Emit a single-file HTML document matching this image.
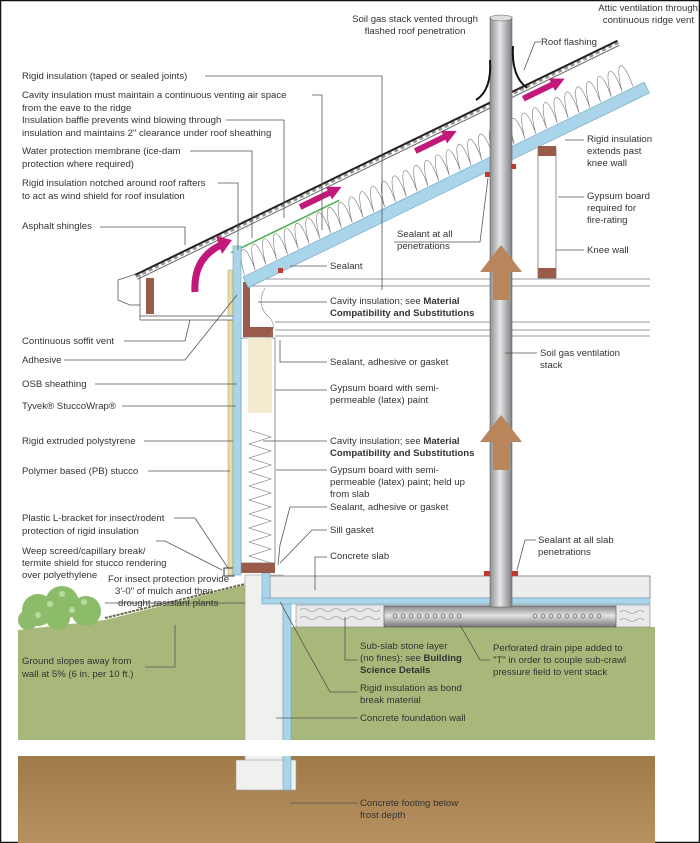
<!DOCTYPE html>
<html><head><meta charset="utf-8"><style>
html,body{margin:0;padding:0;background:#fff}
svg{display:block}
text{font-family:"Liberation Sans",sans-serif;font-size:9.6px;fill:#333}
.b{font-weight:bold}
.l{stroke:#555;stroke-width:0.8;fill:none}
</style></head><body>
<svg width="700" height="843" viewBox="0 0 700 843" xmlns="http://www.w3.org/2000/svg">
<defs>
<linearGradient id="pipe" x1="0" x2="1"><stop offset="0" stop-color="#8d8f92"/><stop offset="0.45" stop-color="#e6e7e8"/><stop offset="1" stop-color="#7d7f82"/></linearGradient>
<linearGradient id="soil" x1="0" y1="0" x2="0" y2="1"><stop offset="0" stop-color="#a07a47"/><stop offset="1" stop-color="#b79261"/></linearGradient>
<linearGradient id="hpipe" x1="0" y1="0" x2="0" y2="1"><stop offset="0" stop-color="#888"/><stop offset="0.45" stop-color="#e3e3e3"/><stop offset="1" stop-color="#777"/></linearGradient>
</defs>
<rect x="0.5" y="0.5" width="699" height="842" fill="#fff" stroke="#111" stroke-width="1.5"/>

<!-- soil -->
<rect x="18" y="756" width="637" height="87" fill="url(#soil)"/>
<!-- ground green -->
<polygon points="18,630 105,620 245,585 245,740 18,740" fill="#a8b87a"/>
<rect x="290" y="627" width="365" height="113" fill="#a8b87a"/>
<polyline points="105,618 245,584" stroke="#6a6a4a" stroke-width="2" fill="none" stroke-dasharray="3,1"/>
<!-- shrub -->
<g fill="#8cbc6a">
<circle cx="38" cy="610" r="16"/><circle cx="62" cy="603" r="17"/><circle cx="86" cy="611" r="15"/><circle cx="28" cy="620" r="10"/><circle cx="58" cy="618" r="12"/>
</g>
<g fill="#b8dca0"><circle cx="50" cy="604" r="3"/><circle cx="72" cy="610" r="3"/><circle cx="38" cy="615" r="3"/><circle cx="84" cy="602" r="3"/><circle cx="62" cy="594" r="3"/></g>

<!-- foundation wall & footing -->
<rect x="245" y="575" width="38" height="215" fill="#f0f0ee" stroke="#999" stroke-width="0.6"/>
<rect x="245" y="740" width="38" height="16" fill="#fff"/>
<rect x="236" y="760" width="60" height="30" fill="#f0f0ee" stroke="#999" stroke-width="0.6"/>
<rect x="283" y="604" width="8" height="186" fill="#a9d4ea" stroke="#6fa3c0" stroke-width="0.6"/>
<rect x="283" y="740" width="8" height="16" fill="#fff"/>
<rect x="18" y="740" width="637" height="16" fill="#fff"/>
<!-- slab -->
<rect x="270" y="576" width="380" height="22" fill="#ededeb" stroke="#777" stroke-width="0.8"/>
<rect x="262" y="573" width="8" height="30" fill="#a9d4ea" stroke="#6fa3c0" stroke-width="0.6"/>
<rect x="262" y="598" width="388" height="6" fill="#a9d4ea" stroke="#6fa3c0" stroke-width="0.6"/>
<!-- gravel -->
<rect x="296" y="605" width="354" height="22" fill="#e9e9e9" stroke="#888" stroke-width="0.6"/>
<g fill="none" stroke="#888" stroke-width="0.6">
<path d="M300,610 q4,-3 8,0 q4,3 8,0 q4,-3 8,0 q4,3 8,0 q4,-3 8,0 q4,3 8,0 q4,-3 8,0 q4,3 8,0 q4,-3 8,0 q4,3 8,0 M300,618 q4,-3 8,0 q4,3 8,0 q4,-3 8,0 q4,3 8,0 q4,-3 8,0 q4,3 8,0 q4,-3 8,0 q4,3 8,0 q4,-3 8,0 q4,3 8,0 M620,612 q4,-3 8,0 q4,3 8,0 q4,-3 8,0 M620,620 q4,-3 8,0 q4,3 8,0 q4,-3 8,0"/>
</g>
<!-- drain pipe -->
<rect x="384" y="606" width="232" height="21" fill="url(#hpipe)" stroke="#555" stroke-width="0.6"/>
<g fill="none" stroke="#444" stroke-width="0.6">
<circle cx="395" cy="616" r="2"/><circle cx="403" cy="616" r="2"/><circle cx="411" cy="616" r="2"/><circle cx="419" cy="616" r="2"/><circle cx="427" cy="616" r="2"/><circle cx="435" cy="616" r="2"/><circle cx="443" cy="616" r="2"/><circle cx="451" cy="616" r="2"/><circle cx="459" cy="616" r="2"/>
<circle cx="535" cy="616" r="2"/><circle cx="543" cy="616" r="2"/><circle cx="551" cy="616" r="2"/><circle cx="559" cy="616" r="2"/><circle cx="567" cy="616" r="2"/><circle cx="575" cy="616" r="2"/><circle cx="583" cy="616" r="2"/><circle cx="591" cy="616" r="2"/><circle cx="599" cy="616" r="2"/>
</g>

<!-- wall -->
<rect x="228" y="270" width="5" height="305" fill="#e8dca0" stroke="#999" stroke-width="0.5"/>
<rect x="241" y="338" width="34" height="225" fill="#fff" stroke="#666" stroke-width="0.7"/>
<rect x="248" y="338" width="24" height="75" fill="#f3ead0"/>
<path d="M249,430 l22,7 l-22,7 l22,7 l-22,7 l22,7 l-22,7 l22,7 l-22,7 l22,7 l-22,7 l22,7 l-22,7 l22,7 l-22,7 l22,7 l-22,7 l22,7 l-22,7 l22,7" fill="none" stroke="#777" stroke-width="0.6"/>
<rect x="243" y="282" width="7" height="50" fill="#9b5b4a"/>
<rect x="243" y="327" width="30" height="10" fill="#9b5b4a"/>
<rect x="241" y="563" width="34" height="10" fill="#9b5b4a"/>
<rect x="224" y="568" width="10" height="8" fill="none" stroke="#333" stroke-width="1"/>

<!-- ceiling joists -->
<g stroke="#777" stroke-width="0.8" fill="none">
<line x1="250" y1="279" x2="650" y2="279"/><line x1="250" y1="286" x2="650" y2="286"/>
<line x1="275" y1="322" x2="650" y2="322"/><line x1="275" y1="330" x2="650" y2="330"/>
<line x1="275" y1="336" x2="650" y2="336"/>
</g>
<path d="M265,288 q-10,18 5,30 q8,10 -3,20" fill="none" stroke="#888" stroke-width="0.6"/>

<!-- eave -->
<path d="M142,272 L118,280 L118,300 L130,305 L140,305" fill="#fff" stroke="#555" stroke-width="0.8"/>
<rect x="146" y="278" width="8" height="36" fill="#9b5b4a"/>
<line x1="140" y1="275" x2="140" y2="318" stroke="#555" stroke-width="0.8"/>
<rect x="140" y="316" width="93" height="4" fill="#fff" stroke="#555" stroke-width="0.8"/>

<!-- roof assembly in rotated frame -->
<g transform="translate(243,277) rotate(-25.9)">
  <rect x="0" y="-46" width="448" height="46" fill="#fff"/>
  <path d="M2,-1 c6,-32 16,-32 12,0 c6,-32 16,-32 12,0 c6,-32 16,-32 12,0 c6,-32 16,-32 12,0 c6,-32 16,-32 12,0 c6,-32 16,-32 12,0 c6,-32 16,-32 12,0 c6,-32 16,-32 12,0 c6,-32 16,-32 12,0 c6,-32 16,-32 12,0 c6,-32 16,-32 12,0 c6,-32 16,-32 12,0 c6,-32 16,-32 12,0 c6,-32 16,-32 12,0 c6,-32 16,-32 12,0 c6,-32 16,-32 12,0 c6,-32 16,-32 12,0 c6,-32 16,-32 12,0 c6,-32 16,-32 12,0 c6,-32 16,-32 12,0 c6,-32 16,-32 12,0 c6,-32 16,-32 12,0 c6,-32 16,-32 12,0 c6,-32 16,-32 12,0 c6,-32 16,-32 12,0 c6,-32 16,-32 12,0 c6,-32 16,-32 12,0 c6,-32 16,-32 12,0 c6,-32 16,-32 12,0 c6,-32 16,-32 12,0 c6,-32 16,-32 12,0 c6,-32 16,-32 12,0 c6,-32 16,-32 12,0 c6,-32 16,-32 12,0 c6,-32 16,-32 12,0 c6,-32 16,-32 12,0" fill="none" stroke="#777" stroke-width="0.6"/>
  <line x1="0" y1="-27" x2="120" y2="-27" stroke="#4caf50" stroke-width="1.5"/>
  <rect x="0" y="0" width="446" height="12" fill="#a9d4ea" stroke="#6fa3c0" stroke-width="0.6"/>
  <line x1="-96" y1="-44" x2="440" y2="-44" stroke="#666" stroke-width="1"/>
  <line x1="-96" y1="-47" x2="440" y2="-47" stroke="#999" stroke-width="3" stroke-dasharray="4,3"/>
  <line x1="-96" y1="-49" x2="440" y2="-49" stroke="#222" stroke-width="2"/>
  <g fill="#c2187c">
    <rect x="82" y="-41" width="34" height="6"/><polygon points="114,-45 128,-38 114,-31"/>
    <rect x="210" y="-41" width="34" height="6"/><polygon points="242,-45 256,-38 242,-31"/>
    <rect x="330" y="-41" width="34" height="6"/><polygon points="362,-45 376,-38 362,-31"/>
  </g>
</g>
<rect x="233" y="246" width="8" height="329" fill="#a9d4ea" stroke="#6fa3c0" stroke-width="0.6"/>
<path d="M195,292 q-2,-35 28,-48" fill="none" stroke="#c2187c" stroke-width="7"/>
<polygon points="216,236 232,240 222,254" fill="#c2187c"/>

<!-- knee wall -->
<rect x="538" y="148" width="18" height="130" fill="#fff" stroke="#777" stroke-width="0.8"/>
<rect x="538" y="146" width="18" height="10" fill="#9b5b4a"/>
<rect x="538" y="268" width="18" height="10" fill="#9b5b4a"/>

<!-- stack -->
<rect x="490" y="17" width="22" height="590" fill="url(#pipe)" stroke="#666" stroke-width="0.6"/>
<ellipse cx="501" cy="18" rx="11" ry="3" fill="#ddd" stroke="#666" stroke-width="0.6"/>
<path d="M513,46 q-2,30 14,42" fill="none" stroke="#111" stroke-width="2"/>
<path d="M490,60 q2,30 -14,40" fill="none" stroke="#111" stroke-width="2"/>
<g fill="#b8865a">
<polygon points="501,245 522,272 509,272 509,300 493,300 493,272 480,272"/>
<polygon points="501,415 522,442 509,442 509,470 493,470 493,442 480,442"/>
</g>
<g fill="#c0392b"><rect x="485" y="172" width="5" height="5"/><rect x="511" y="164" width="5" height="5"/><rect x="484" y="571" width="6" height="5"/><rect x="512" y="571" width="6" height="5"/><rect x="278" y="268" width="5" height="5"/></g>

<!-- leaders -->
<g class="l">
<polyline points="205,76 382,76 382,290"/>
<polyline points="312,95 322,95 322,230"/>
<polyline points="226,120 284,120 284,218"/>
<polyline points="190,151 252,151 252,238"/>
<polyline points="218,183 238,183 238,250"/>
<polyline points="100,227 185,227 185,245"/>
<polyline points="124,341 185,341 190,320"/>
<polyline points="64,360 185,360 237,295"/>
<line x1="95" y1="384" x2="237" y2="384"/>
<line x1="122" y1="406" x2="236" y2="406"/>
<line x1="144" y1="441" x2="233" y2="441"/>
<line x1="148" y1="471" x2="230" y2="471"/>
<polyline points="174,518 195,518 228,568"/>
<polyline points="156,541 165,541 222,570"/>
<line x1="105" y1="603" x2="245" y2="603" />
<polyline points="145,667 175,667 175,625"/>
<line x1="290" y1="266" x2="327" y2="266"/>
<line x1="258" y1="302" x2="327" y2="302"/>
<polyline points="280,340 280,362 327,362"/>
<line x1="275" y1="390" x2="327" y2="390"/>
<line x1="263" y1="441" x2="327" y2="441"/>
<line x1="276" y1="470" x2="327" y2="470"/>
<polyline points="327,507 290,507 280,545 278,565"/>
<polyline points="327,530 312,530 280,563"/>
<polyline points="327,557 315,557 315,590"/>
<polyline points="358,660 345,660 345,617"/>
<polyline points="358,692 330,692 280,602"/>
<line x1="276" y1="718" x2="358" y2="718"/>
<line x1="290" y1="803" x2="358" y2="803"/>
<polyline points="490,660 480,660 460,625"/>
<polyline points="536,540 525,540 517,570"/>
<polyline points="394,242 480,242 488,178"/>
<line x1="505" y1="353" x2="537" y2="353"/>
<polyline points="541,42 535,42 524,70"/>
<line x1="565" y1="140" x2="584" y2="140"/>
<line x1="558" y1="197" x2="584" y2="197"/>
<line x1="556" y1="250" x2="584" y2="250"/>
</g>

<!-- labels -->
<text x="22" y="79">Rigid insulation (taped or sealed joints)</text>
<text x="22" y="98">Cavity insulation must maintain a continuous venting air space</text>
<text x="22" y="111">from the eave to the ridge</text>
<text x="22" y="123">Insulation baffle prevents wind blowing through</text>
<text x="22" y="136">insulation and maintains 2" clearance under roof sheathing</text>
<text x="22" y="154">Water protection membrane (ice-dam</text>
<text x="22" y="167">protection where required)</text>
<text x="22" y="186">Rigid insulation notched around roof rafters</text>
<text x="22" y="199">to act as wind shield for roof insulation</text>
<text x="22" y="229">Asphalt shingles</text>
<text x="22" y="344">Continuous soffit vent</text>
<text x="22" y="363">Adhesive</text>
<text x="22" y="387">OSB sheathing</text>
<text x="22" y="409">Tyvek® StuccoWrap®</text>
<text x="22" y="444">Rigid extruded polystyrene</text>
<text x="22" y="474">Polymer based (PB) stucco</text>
<text x="22" y="521">Plastic L-bracket for insect/rodent</text>
<text x="22" y="534">protection of rigid insulation</text>
<text x="22" y="554">Weep screed/capillary break/</text>
<text x="22" y="566">termite shield for stucco rendering</text>
<text x="22" y="578">over polyethylene</text>
<text x="108" y="582">For insect protection provide</text>
<text x="115" y="594">3'-0" of mulch and then</text>
<text x="118" y="606">drought-resistant plants</text>
<text x="22" y="664">Ground slopes away from</text>
<text x="22" y="677">wall at 5% (6 in. per 10 ft.)</text>

<text x="415" y="22" text-anchor="middle">Soil gas stack vented through</text>
<text x="415" y="34" text-anchor="middle">flashed roof penetration</text>
<text x="698" y="11" text-anchor="end">Attic ventilation through</text>
<text x="694" y="23" text-anchor="end">continuous ridge vent</text>
<text x="541" y="45">Roof flashing</text>
<text x="587" y="142">Rigid insulation</text>
<text x="587" y="154">extends past</text>
<text x="587" y="166">knee wall</text>
<text x="587" y="199">Gypsum board</text>
<text x="587" y="211">required for</text>
<text x="587" y="223">fire-rating</text>
<text x="587" y="253">Knee wall</text>
<text x="397" y="237">Sealant at all</text>
<text x="397" y="249">penetrations</text>
<text x="330" y="269">Sealant</text>
<text x="330" y="304">Cavity insulation; see <tspan class="b">Material</tspan></text>
<text x="330" y="316" class="b">Compatibility and Substitutions</text>
<text x="540" y="356">Soil gas ventilation</text>
<text x="540" y="368">stack</text>
<text x="330" y="365">Sealant, adhesive or gasket</text>
<text x="330" y="391">Gypsum board with semi-</text>
<text x="330" y="403">permeable (latex) paint</text>
<text x="330" y="444">Cavity insulation; see <tspan class="b">Material</tspan></text>
<text x="330" y="456" class="b">Compatibility and Substitutions</text>
<text x="330" y="473">Gypsum board with semi-</text>
<text x="330" y="485">permeable (latex) paint; held up</text>
<text x="330" y="497">from slab</text>
<text x="330" y="510">Sealant, adhesive or gasket</text>
<text x="330" y="533">Sill gasket</text>
<text x="330" y="559">Concrete slab</text>
<text x="538" y="543">Sealant at all slab</text>
<text x="538" y="555">penetrations</text>
<text x="360" y="649">Sub-slab stone layer</text>
<text x="360" y="661">(no fines); see <tspan class="b">Building</tspan></text>
<text x="360" y="673" class="b">Science Details</text>
<text x="493" y="651">Perforated drain pipe added to</text>
<text x="493" y="663">"T" in order to couple sub-crawl</text>
<text x="493" y="675">pressure field to vent stack</text>
<text x="360" y="691">Rigid insulation as bond</text>
<text x="360" y="703">break material</text>
<text x="360" y="721">Concrete foundation wall</text>
<text x="360" y="806">Concrete footing below</text>
<text x="360" y="818">frost depth</text>
</svg>
</body></html>
